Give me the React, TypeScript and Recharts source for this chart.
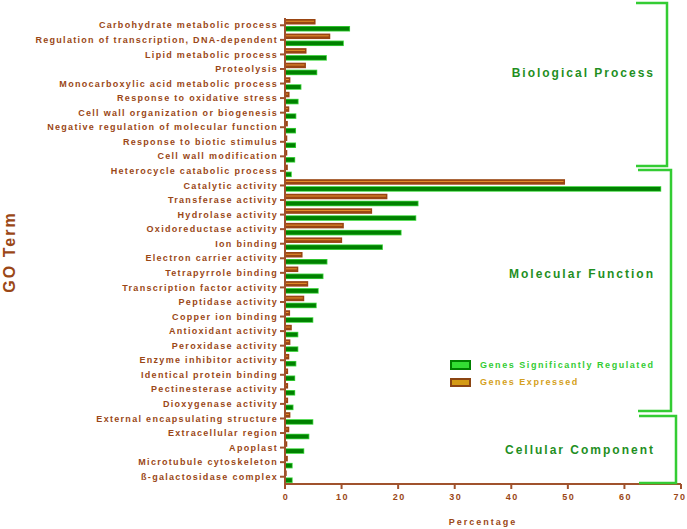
import { BarChart, Bar, XAxis, YAxis, Legend } from "recharts";

const categories = [
  "Carbohydrate metabolic process",
  "Regulation of transcription, DNA-dependent",
  "Lipid metabolic process",
  "Proteolysis",
  "Monocarboxylic acid metabolic process",
  "Response to oxidative stress",
  "Cell wall organization or biogenesis",
  "Negative regulation of molecular function",
  "Response to biotic stimulus",
  "Cell wall modification",
  "Heterocycle catabolic process",
  "Catalytic activity",
  "Transferase activity",
  "Hydrolase activity",
  "Oxidoreductase activity",
  "Ion binding",
  "Electron carrier activity",
  "Tetrapyrrole binding",
  "Transcription factor activity",
  "Peptidase activity",
  "Copper ion binding",
  "Antioxidant activity",
  "Peroxidase activity",
  "Enzyme inhibitor activity",
  "Identical protein binding",
  "Pectinesterase activity",
  "Dioxygenase activity",
  "External encapsulating structure",
  "Extracellular region",
  "Apoplast",
  "Microtubule cytoskeleton",
  "ß-galactosidase complex",
];

// % of genes expressed
const expressed = [
  5.4, 8.0, 3.8, 3.7, 0.95, 0.8, 0.75, 0.5, 0.4, 0.4, 0.5,
  49.5, 18.1, 15.4, 10.4, 10.1, 3.1, 2.35, 4.1, 3.4, 0.9, 1.2, 0.95, 0.75, 0.55, 0.55, 0.55,
  0.95, 0.75, 0.4, 0.5, 0.3,
];

// % of genes significantly regulated
const regulated = [
  11.5, 10.4, 7.4, 5.7, 2.9, 2.4, 2.0, 1.95, 1.95, 1.8, 1.2,
  66.5, 23.6, 23.2, 20.6, 17.3, 7.5, 6.8, 5.95, 5.6, 5.0, 2.35, 2.35, 2.0, 1.8, 1.8, 1.5,
  5.0, 4.3, 3.4, 1.35, 1.35,
];

const xTicks = [0, 10, 20, 30, 40, 50, 60, 70];

const sections = [
  { name: "Biological Process", top: 3, bottom: 166, left: 636, right: 667, labelY: 73 },
  { name: "Molecular Function", top: 170, bottom: 411, left: 638, right: 671, labelY: 274 },
  { name: "Cellular Component", top: 416, bottom: 483, left: 639, right: 676, labelY: 450 },
];

const data = categories.map((name, i) => ({
  name,
  expressed: expressed[i],
  regulated: regulated[i],
}));

const FONT = "'Liberation Sans', Arial, sans-serif";
const BROWN = "#9a4716";
const AXIS = "#a0522d";
const BRIGHT_GREEN = "#33cc33";

const YTick = ({ x, y, payload }: any) => (
  <text
    x={x}
    y={y}
    dy="0.35em"
    textAnchor="end"
    fontFamily={FONT}
    fontSize={9}
    fontWeight="bold"
    letterSpacing={1.3}
    fill={BROWN}
  >
    {payload.value}
  </text>
);

const XTick = ({ x, y, payload }: any) => (
  <text
    x={x + 1}
    y={y}
    dy="0.71em"
    textAnchor="middle"
    fontFamily={FONT}
    fontSize={9}
    fontWeight="bold"
    letterSpacing={1.5}
    fill={BROWN}
  >
    {payload.value}
  </text>
);

const ExpressedBar = ({ x, y, width, height }: any) => {
  if (!width || width <= 0) return null;
  return (
    <g>
      <rect x={x} y={y} width={width} height={height} fill="#994512" />
      {width > 3 && (
        <line
          x1={x + 1}
          x2={x + width - 1.5}
          y1={y + height / 2 - 0.5}
          y2={y + height / 2 - 0.5}
          stroke="#e8922e"
          strokeWidth={1}
        />
      )}
    </g>
  );
};

const RegulatedBar = ({ x, y, width, height }: any) => {
  if (!width || width <= 0) return null;
  return (
    <g>
      <rect x={x} y={y} width={width} height={height} fill="#3ad43a" />
      <rect
        x={x}
        y={y + 0.8}
        width={Math.max(width - 0.8, 0.5)}
        height={height - 1.6}
        fill="#008000"
      />
    </g>
  );
};

const LegendBox = () => (
  <div style={{ fontFamily: FONT, fontSize: 9, fontWeight: "bold", letterSpacing: 1.55 }}>
    <div style={{ display: "flex", alignItems: "center", height: 14 }}>
      <div
        style={{
          width: 17,
          height: 6,
          background: "#33dd33",
          border: "2px solid #008000",
          marginRight: 9,
        }}
      />
      <span style={{ color: BRIGHT_GREEN }}>Genes Significantly Regulated</span>
    </div>
    <div style={{ display: "flex", alignItems: "center", height: 14, marginTop: 3 }}>
      <div
        style={{
          width: 17,
          height: 5,
          background: "#d49a14",
          border: "2px solid #8b4513",
          marginRight: 9,
        }}
      />
      <span style={{ color: "#d4a020" }}>Genes Expressed</span>
    </div>
  </div>
);

export default function App() {
  return (
    <div style={{ position: "relative", width: 687, height: 529, background: "#fff" }}>
      <style>{`body{margin:0}`}</style>
      <BarChart
        width={687}
        height={529}
        data={data}
        layout="vertical"
        margin={{ top: 18, right: 6, left: 0, bottom: 0 }}
        barSize={5.5}
        barGap={1.5}
      >
        <XAxis
          type="number"
          domain={[0, 70]}
          ticks={xTicks}
          height={45}
          tickSize={5}
          tickMargin={5}
          stroke={AXIS}
          strokeWidth={2}
          tick={<XTick />}
          label={{
            value: "Percentage",
            position: "insideBottom",
            offset: 4,
            fill: BROWN,
            fontFamily: FONT,
            fontSize: 9,
            fontWeight: "bold",
            letterSpacing: 2,
          }}
        />
        <YAxis
          type="category"
          dataKey="name"
          width={285}
          interval={0}
          tickSize={5}
          tickMargin={2}
          stroke={AXIS}
          strokeWidth={2}
          tick={<YTick />}
        />
        <Legend
          layout="vertical"
          align="center"
          verticalAlign="middle"
          content={<LegendBox />}
          wrapperStyle={{ left: 450, top: 358, width: 240, height: 34 }}
        />
        <Bar dataKey="expressed" name="Genes Expressed" shape={<ExpressedBar />} isAnimationActive={false} />
        <Bar dataKey="regulated" name="Genes Significantly Regulated" shape={<RegulatedBar />} isAnimationActive={false} />
      </BarChart>
      <svg
        width={687}
        height={529}
        style={{ position: "absolute", left: 0, top: 0, pointerEvents: "none" }}
      >
        {sections.map((s) => (
          <g key={s.name}>
            <polyline
              points={`${s.left},${s.top} ${s.right},${s.top} ${s.right},${s.bottom} ${s.left},${s.bottom}`}
              fill="none"
              stroke={BRIGHT_GREEN}
              strokeWidth={2.5}
            />
            <text
              x={655}
              y={s.labelY}
              dy="0.35em"
              textAnchor="end"
              fontFamily={FONT}
              fontSize={12}
              fontWeight="bold"
              letterSpacing={2}
              fill="#1f8f1f"
            >
              {s.name}
            </text>
          </g>
        ))}
        <text
          transform="translate(9,252) rotate(-90)"
          textAnchor="middle"
          dy="0.35em"
          fontFamily={FONT}
          fontSize={16}
          fontWeight="bold"
          letterSpacing={2}
          fill={BROWN}
        >
          GO Term
        </text>
      </svg>
    </div>
  );
}
